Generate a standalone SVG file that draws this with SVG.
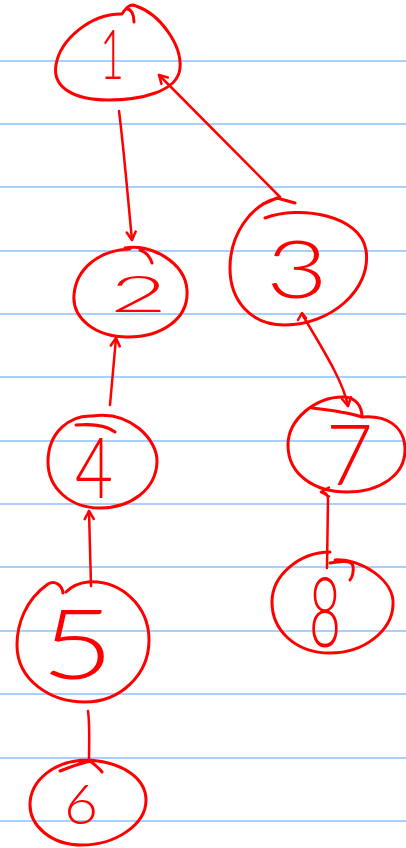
<svg xmlns="http://www.w3.org/2000/svg" width="406" height="848" viewBox="0 0 406 848">
  <style>
    .rule { stroke: #a8d0fa; stroke-width: 2; }
    .ink { fill: none; stroke: #ff0000; stroke-width: 3; stroke-linecap: round; stroke-linejoin: round; }
    .conn { fill: none; stroke: #ff0000; stroke-width: 2.5; stroke-linecap: round; stroke-linejoin: round; }
    .num { fill: #ff0000; font-family: "Lato", "Liberation Sans", sans-serif; font-weight: 300; text-anchor: start; }
  </style>
  <defs>
    <marker id="arr" viewBox="-10 -6 12 12" markerWidth="12" markerHeight="12" markerUnits="userSpaceOnUse" refX="0" refY="0" orient="auto">
      <path d="M-8,-4.5 L0,0 L-8,4.5" fill="none" stroke="#ff0000" stroke-width="2.5" stroke-linecap="round" stroke-linejoin="round"/>
    </marker>
  </defs>
  <rect width="406" height="848" fill="#ffffff"/>
  <g id="rules">
    <line class="rule" x1="0" y1="61" x2="406" y2="61"/>
    <line class="rule" x1="0" y1="124" x2="406" y2="124"/>
    <line class="rule" x1="0" y1="187" x2="406" y2="187"/>
    <line class="rule" x1="0" y1="251" x2="406" y2="251"/>
    <line class="rule" x1="0" y1="314" x2="406" y2="314"/>
    <line class="rule" x1="0" y1="377" x2="406" y2="377"/>
    <line class="rule" x1="0" y1="441" x2="406" y2="441"/>
    <line class="rule" x1="0" y1="504" x2="406" y2="504"/>
    <line class="rule" x1="0" y1="567" x2="406" y2="567"/>
    <line class="rule" x1="0" y1="631" x2="406" y2="631"/>
    <line class="rule" x1="0" y1="694" x2="406" y2="694"/>
    <line class="rule" x1="0" y1="758" x2="406" y2="758"/>
    <line class="rule" x1="0" y1="821" x2="406" y2="821"/>
  </g>
  <g id="connectors">
    <path class="conn" d="M119,111 C124,150 128,200 132,240" marker-end="url(#arr)"/>
    <path class="conn" d="M280,197 L159,75" marker-end="url(#arr)"/>
    <path class="conn" d="M110,405 L116,338" marker-end="url(#arr)"/>
    <path class="conn" d="M91,586 L89,511" marker-end="url(#arr)"/>
    <path class="conn" d="M88,711 C90,725 89,745 89,762"/>
    <path class="conn" d="M302,314 C320,345 343,380 348,406" marker-end="url(#arr)"/>
    <path class="conn" d="M298,320 L302,313 L306,318"/>
    <path class="conn" d="M327,568 L328,500 C328,494 326,492 321,492" marker-end="url(#arr)"/>
  </g>
  <g id="node1">
    <path class="ink" d="M121,14 C90,14 60,40 56,65 C52,88 75,100 108,100 C140,100 178,92 180,68 C182,45 160,14 136,6 C130,3 126,8 122,14 M127,9 C131,9 134,14 134,22"/>
    <text class="num" x="100" y="79" font-size="68" textLength="24" lengthAdjust="spacingAndGlyphs">1</text>
  </g>
  <g id="node2">
    <path class="ink" d="M130,249 C100,250 76,268 74,295 C72,318 95,337 128,337 C160,337 189,320 187,290 C185,262 150,243 125,248 M140,250 C146,252 150,257 152,263"/>
    <text class="num" x="110" y="312" font-size="52" textLength="57" lengthAdjust="spacingAndGlyphs">2</text>
  </g>
  <g id="node3">
    <path class="ink" d="M265,218 C300,205 360,215 366,250 C372,290 330,325 285,325 C250,325 230,300 230,268 C230,235 250,205 278,198 M263,204 L277,198 L295,203"/>
    <text class="num" x="266" y="298" font-size="80" textLength="62" lengthAdjust="spacingAndGlyphs">3</text>
  </g>
  <g id="node4">
    <path class="ink" d="M76,425 C90,424 105,424 115,432 M92,416 C130,410 158,440 157,462 C156,490 130,508 100,508 C70,508 48,488 48,462 C48,432 70,415 92,416"/>
    <text class="num" x="75" y="498" font-size="84" textLength="38" lengthAdjust="spacingAndGlyphs">4</text>
  </g>
  <g id="node5">
    <path class="ink" d="M63,593 C62,585 55,580 48,584 C25,600 17,625 17,645 C17,680 50,702 85,702 C120,702 149,675 149,640 C149,605 120,580 88,582 C78,583 70,588 66,592"/>
    <text class="num" x="41" y="679" font-size="96" textLength="73" lengthAdjust="spacingAndGlyphs">5</text>
  </g>
  <g id="node6">
    <path class="ink" d="M88,760 C125,762 146,780 146,800 C146,825 115,845 82,845 C50,845 30,825 30,805 C30,780 55,760 88,760 M60,771 C72,766 82,763 90,761 C95,765 99,768 102,772"/>
    <text class="num" x="64" y="824" font-size="56" textLength="34" lengthAdjust="spacingAndGlyphs">6</text>
  </g>
  <g id="node7">
    <path class="ink" d="M312,408 C330,410 350,413 362,417 C362,405 355,398 345,397 C315,396 288,420 288,445 C288,475 315,492 347,492 C380,492 405,475 405,450 C405,425 385,415 362,417"/>
    <text class="num" x="326" y="485" font-size="85" textLength="47" lengthAdjust="spacingAndGlyphs">7</text>
  </g>
  <g id="node8">
    <path class="ink" d="M330,552 C300,552 272,575 272,602 C272,630 295,653 330,653 C365,653 392,630 393,605 C395,580 360,558 335,560 M330,563 C340,561 352,560 353,566 C354,572 352,578 350,580"/>
    <text class="num" x="309" y="647" font-size="96" textLength="32" lengthAdjust="spacingAndGlyphs">8</text>
  </g>
</svg>
